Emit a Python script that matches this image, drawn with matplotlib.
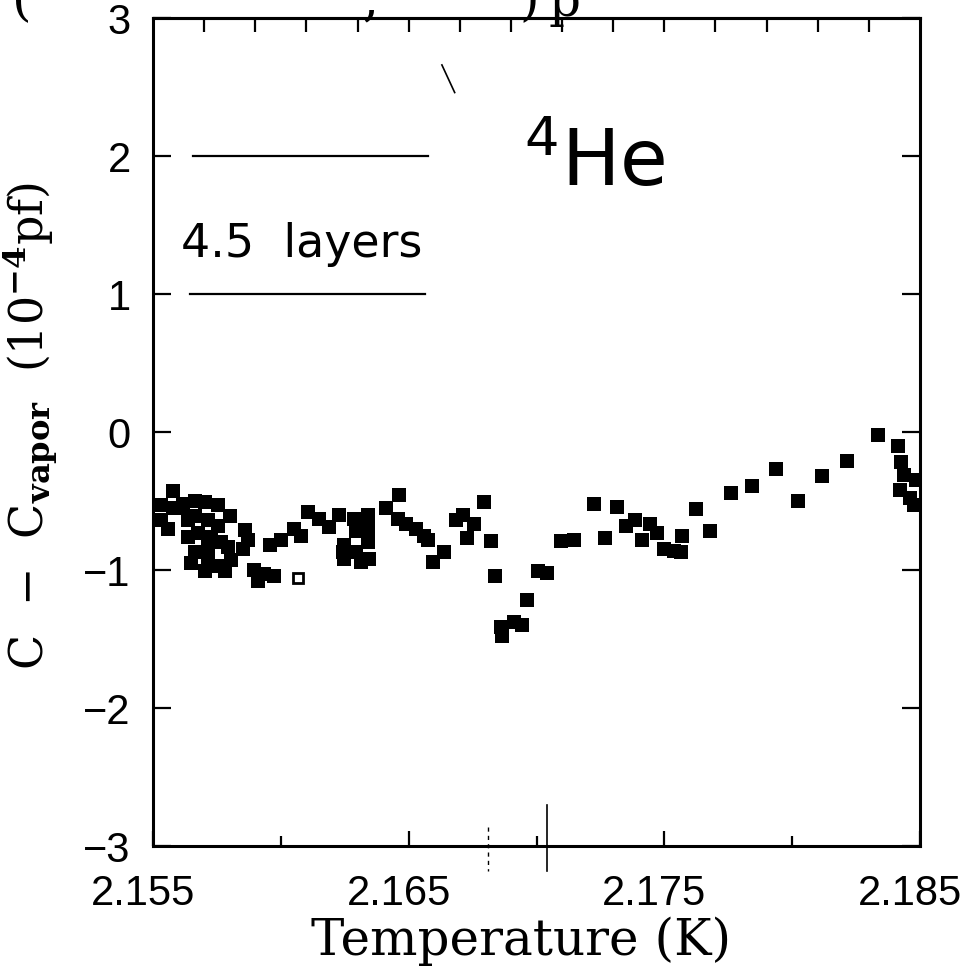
import numpy as np
import matplotlib.pyplot as plt
import matplotlib.transforms as mtransforms
from matplotlib.ticker import FixedLocator

# C - C_vapor versus temperature, 4.5 layer 4He film
temp_k = [
    2.15578, 2.15532, 2.15532, 2.15559, 2.15578, 2.15617, 2.15663, 2.15702,
    2.15754, 2.15800, 2.15858, 2.15871, 2.15852, 2.15663, 2.15715, 2.15754,
    2.15676, 2.15728, 2.15767, 2.15663, 2.15715, 2.15754, 2.15702, 2.15780,
    2.15897, 2.15936, 2.15975, 2.15910, 2.15956, 2.16001, 2.16053, 2.16079,
    2.16105, 2.16151, 2.16190, 2.16229, 2.16242, 2.16249, 2.16249, 2.16288,
    2.16294, 2.16294, 2.16340, 2.16340, 2.16340, 2.16346, 2.16314, 2.16411,
    2.16457, 2.16489, 2.16528, 2.16561, 2.16574, 2.16464, 2.16594, 2.16639,
    2.16685, 2.16711, 2.16757, 2.16796, 2.16730, 2.16821, 2.16837, 2.16962,
    2.16860, 2.16913, 2.16867, 2.16945, 2.17004, 2.17043, 2.17095, 2.17147,
    2.17225, 2.17268, 2.17314, 2.17349, 2.17384, 2.17414, 2.17444, 2.17473,
    2.17499, 2.17538, 2.17564, 2.17570, 2.17622, 2.17678, 2.17762, 2.17844,
    2.17935, 2.18023, 2.18117, 2.18215, 2.18335, 2.18414, 2.18427, 2.18436,
    2.18485, 2.18421, 2.18460, 2.18475,
    2.15637, 2.15637, 2.15715, 2.15793, 2.15806, 2.15650, 2.15611,
]
dc = [
    -0.43, -0.53, -0.64, -0.70, -0.55, -0.52, -0.50, -0.51,
    -0.53, -0.61, -0.71, -0.78, -0.85, -0.61, -0.64, -0.68,
    -0.73, -0.76, -0.80, -0.87, -0.92, -0.97, -1.01, -1.01,
    -1.00, -1.03, -1.04, -1.08, -0.82, -0.78, -0.70, -0.75,
    -0.58, -0.63, -0.69, -0.60, -0.87, -0.82, -0.92, -0.63,
    -0.72, -0.87, -0.60, -0.70, -0.80, -0.92, -0.94, -0.55,
    -0.63, -0.67, -0.70, -0.75, -0.78, -0.46, -0.94, -0.87,
    -0.64, -0.60, -0.67, -0.51, -0.77, -0.79, -1.04, -1.22,
    -1.41, -1.38, -1.48, -1.40, -1.01, -1.02, -0.79, -0.78,
    -0.52, -0.77, -0.54, -0.68, -0.64, -0.78, -0.67, -0.73,
    -0.85, -0.86, -0.87, -0.75, -0.56, -0.72, -0.44, -0.39,
    -0.27, -0.50, -0.32, -0.21, -0.02, -0.10, -0.22, -0.31,
    -0.35, -0.42, -0.48, -0.53,
    -0.64, -0.76, -0.83, -0.83, -0.93, -0.95, -0.55,
]
# one open point
temp_open = [2.16066]
dc_open = [-1.06]

# bars above and below the film label
bar_levels = [2.0, 1.0]
bar_start = [2.15656, 2.15645]
bar_end = [2.16576, 2.16565]

x_ticks = [2.155, 2.165, 2.175, 2.185]
x_minor = [2.160, 2.170, 2.180]
x_top_ticks = [2.157, 2.159, 2.161, 2.163, 2.165, 2.167, 2.169,
               2.171, 2.173, 2.175, 2.177, 2.179, 2.181, 2.183]
y_ticks = [-3, -2, -1, 0, 1, 2, 3]

plt.rcParams['mathtext.fontset'] = 'dejavuserif'

fig = plt.figure(figsize=(9.62, 9.74), dpi=100)
ax = fig.add_axes([153 / 962, 0.1314, 767 / 962, 0.8501])

ax.plot(temp_k, dc, 's', color='black', ms=10, mew=0)
ax.plot(temp_open, dc_open, 's', mfc='white', mec='black', ms=7, mew=2)

for lev, x0, x1 in zip(bar_levels, bar_start, bar_end):
    ax.plot([x0, x1], [lev, lev], color='black', lw=1.6)

ax.text(2.15610, 1.36, '4.5  layers', fontsize=33, family='DejaVu Sans',
        ha='left', va='center')
ax.text(2.16950, 1.78, '$^{4}$He', fontsize=56, family='DejaVu Sans',
        ha='left', va='baseline', math_fontfamily='dejavusans')

# lambda-point marks at the bottom axis
ax.plot([2.1704, 2.1704], [-2.70, -3.18], color='black', lw=1.2, clip_on=False)
ax.plot([2.1681, 2.1681], [-2.86, -3.18], color='black', lw=1.0,
        ls=(0, (3, 3)), clip_on=False)
# stray stroke near the top
ax.plot([2.16630, 2.16680], [2.66, 2.46], color='black', lw=1.2)

ax.set_xlim(2.155, 2.185)
ax.set_ylim(-3, 3)

ax.xaxis.set_major_locator(FixedLocator(x_ticks))
ax.xaxis.set_minor_locator(FixedLocator(x_minor))
ax.set_xticklabels([f'{v:.3f}' for v in x_ticks])
ax.yaxis.set_major_locator(FixedLocator(y_ticks))

for sp in ax.spines.values():
    sp.set_linewidth(2.2)

ax.tick_params(axis='x', which='major', direction='in', length=11, width=1.6,
               pad=20, labelsize=30, top=False)
ax.tick_params(axis='x', which='minor', direction='in', length=7, width=1.6,
               top=False)
ax.tick_params(axis='y', which='major', direction='in', length=13, width=1.6,
               pad=16, labelsize=30, right=True)

shift = mtransforms.ScaledTranslation(-10 / 100, 0, fig.dpi_scale_trans)
for lbl in ax.get_xticklabels():
    lbl.set_family('Liberation Sans')
    lbl.set_transform(lbl.get_transform() + shift)
for lbl in ax.get_yticklabels():
    lbl.set_family('Liberation Sans')

top = ax.secondary_xaxis('top')
top.set_xticks(x_top_ticks)
top.tick_params(direction='in', length=10, width=1.6, labeltop=False)
top.spines['top'].set_linewidth(2.2)

ax.set_xlabel('Temperature (K)', fontsize=36, family='DejaVu Serif')
ax.xaxis.label.set_va('baseline')
ax.xaxis.set_label_coords(0.48, -0.1316)
ax.set_ylabel(r'C  $-$  C$_{\mathbf{vapor}}$  (10$^{\mathbf{-4}}$pf)', fontsize=33,
              family='DejaVu Serif')
ax.yaxis.set_label_coords(-0.121, 0.507)

# clipped remains of a caption line above the plot
for xpos, ch in [(0.012, '('), (0.376, ','), (0.540, ')'), (0.570, 'p')]:
    fig.text(xpos, 0.984, ch, fontsize=36, family='DejaVu Serif',
             ha='left', va='baseline')

fig.savefig('out.png', dpi=100)
